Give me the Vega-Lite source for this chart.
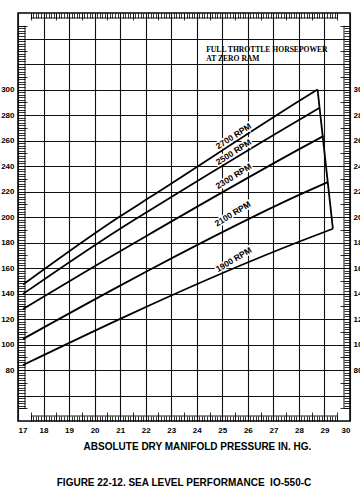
{
  "$schema": "https://vega.github.io/schema/vega-lite/v6.json",
  "width": 332,
  "height": 408,
  "autosize": {"type": "none"},
  "padding": {"left": 18, "top": 13, "right": 10, "bottom": 83},
  "background": "white",
  "title": {"text": "FIGURE 22-12. SEA LEVEL PERFORMANCE \u00a0IO-550-C", "orient": "bottom", "anchor": "middle", "font": "Liberation Sans", "fontSize": 10, "fontWeight": "bold", "color": "#000", "offset": 27},
  "config": {
    "view": {"stroke": "#000", "strokeWidth": 1.5},
    "axis": {"labelFont": "Liberation Sans", "labelFontWeight": "bold", "labelFontSize": 8, "labelColor": "#000", "tickColor": "#000", "tickWidth": 0.8, "gridColor": "#111", "gridWidth": 1.1, "gridOpacity": 1, "domain": false}
  },
  "layer": [
    {
      "data": {"values": [
        {"series": "2700", "mp": 17.2, "hp": 147},
        {"series": "2700", "mp": 21, "hp": 200.5},
        {"series": "2700", "mp": 22.18, "hp": 215.6},
        {"series": "2700", "mp": 28.05, "hp": 291.5},
        {"series": "2700", "mp": 28.73, "hp": 300},
        {"series": "2500", "mp": 17.2, "hp": 139.7},
        {"series": "2500", "mp": 21, "hp": 190.8},
        {"series": "2500", "mp": 22.18, "hp": 205.5},
        {"series": "2500", "mp": 28.05, "hp": 276.7},
        {"series": "2500", "mp": 28.8, "hp": 285.5},
        {"series": "2300", "mp": 17.2, "hp": 127.9},
        {"series": "2300", "mp": 21, "hp": 173.2},
        {"series": "2300", "mp": 22.18, "hp": 186.9},
        {"series": "2300", "mp": 28.05, "hp": 253.6},
        {"series": "2300", "mp": 28.96, "hp": 263.5},
        {"series": "2100", "mp": 17.2, "hp": 104.4},
        {"series": "2100", "mp": 21, "hp": 146.2},
        {"series": "2100", "mp": 22.18, "hp": 158.8},
        {"series": "2100", "mp": 28.05, "hp": 217.7},
        {"series": "2100", "mp": 29.13, "hp": 227.4},
        {"series": "1900", "mp": 17.2, "hp": 83.9},
        {"series": "1900", "mp": 21, "hp": 120.1},
        {"series": "1900", "mp": 22.18, "hp": 131},
        {"series": "1900", "mp": 28.05, "hp": 181},
        {"series": "1900", "mp": 29.33, "hp": 190.8},
        {"series": "limit", "mp": 28.73, "hp": 300},
        {"series": "limit", "mp": 29.33, "hp": 190.8}
      ]},
      "mark": {"type": "line", "color": "#000", "strokeWidth": 1.8, "interpolate": "monotone"},
      "encoding": {
        "x": {"field": "mp", "type": "quantitative", "scale": {"domain": [17, 30], "nice": false, "zero": false},
          "axis": {"orient": "bottom", "values": [17,18,19,20,21,22,23,24,25,26,27,28,29,30], "grid": true, "ticks": false, "labelPadding": 5,
            "title": "ABSOLUTE DRY MANIFOLD PRESSURE IN. HG.", "titleFont": "Liberation Sans", "titleFontSize": 10, "titleFontWeight": "bold", "titleColor": "#000",
            "titleX": 179, "titleY": 28, "titleBaseline": "alphabetic", "titleAlign": "center"}},
        "y": {"field": "hp", "type": "quantitative", "scale": {"domain": [40, 360], "nice": false, "zero": false},
          "axis": {"orient": "left", "values": [60,80,100,120,140,160,180,200,220,240,260,280,300,320,340], "labelExpr": "datum.value >= 80 && datum.value <= 300 ? datum.label : ''", "grid": true, "ticks": false, "labelPadding": 4, "title": null}},
        "detail": {"field": "series"}
      }
    },
    {
      "data": {"values": [
        {"label": "2700 RPM", "rpm": "2700", "mp": 25.44, "hp": 263.5},
        {"label": "2500 RPM", "rpm": "2500", "mp": 25.44, "hp": 251.0},
        {"label": "2300 RPM", "rpm": "2300", "mp": 25.44, "hp": 232.1},
        {"label": "2100 RPM", "rpm": "2100", "mp": 25.40, "hp": 202.6},
        {"label": "1900 RPM", "rpm": "1900", "mp": 25.44, "hp": 166.7}
      ]},
      "mark": {"type": "text", "font": "Liberation Sans", "fontWeight": "bold", "fontSize": 8.5, "fill": "white", "stroke": "white", "strokeWidth": 3, "align": "center", "baseline": "middle"},
      "encoding": {
        "x": {"field": "mp", "type": "quantitative", "scale": {"domain": [17, 30], "nice": false, "zero": false},
          "axis": {"orient": "bottom", "offset": -5, "tickSize": 5, "labels": false, "grid": false, "title": null,
            "values": [17.5,17.6,17.7,17.8,17.9,18,18.1,18.2,18.3,18.4,18.5,18.6,18.7,18.8,18.9,19,19.1,19.2,19.3,19.4,19.5,19.6,19.7,19.8,19.9,20,20.1,20.2,20.3,20.4,20.5,20.6,20.7,20.8,20.9,21,21.1,21.2,21.3,21.4,21.5,21.6,21.7,21.8,21.9,22,22.1,22.2,22.3,22.4,22.5,22.6,22.7,22.8,22.9,23,23.1,23.2,23.3,23.4,23.5,23.6,23.7,23.8,23.9,24,24.1,24.2,24.3,24.4,24.5,24.6,24.7,24.8,24.9,25,25.1,25.2,25.3,25.4,25.5,25.6,25.7,25.8,25.9,26,26.1,26.2,26.3,26.4,26.5,26.6,26.7,26.8,26.9,27,27.1,27.2,27.3,27.4,27.5,27.6,27.7,27.8,27.9,28,28.1,28.2,28.3,28.4,28.5,28.6,28.7,28.8,28.9,29,29.1,29.2,29.3,29.4,29.5]}},
        "y": {"field": "hp", "type": "quantitative", "scale": {"domain": [40, 360], "nice": false, "zero": false},
          "axis": {"orient": "right", "values": [80,100,120,140,160,180,200,220,240,260,280,300], "ticks": false, "grid": false, "labelPadding": 3, "title": null}},
        "text": {"field": "label"},
        "angle": {"field": "rpm", "type": "nominal", "scale": {"domain": ["2700","2500","2300","2100","1900"], "range": [327,329,331,333,336]}, "legend": null}
      }
    },
    {
      "data": {"values": [
        {"label": "2700 RPM", "rpm": "2700", "mp": 25.44, "hp": 263.5},
        {"label": "2500 RPM", "rpm": "2500", "mp": 25.44, "hp": 251.0},
        {"label": "2300 RPM", "rpm": "2300", "mp": 25.44, "hp": 232.1},
        {"label": "2100 RPM", "rpm": "2100", "mp": 25.40, "hp": 202.6},
        {"label": "1900 RPM", "rpm": "1900", "mp": 25.44, "hp": 166.7}
      ]},
      "mark": {"type": "text", "font": "Liberation Sans", "fontWeight": "bold", "fontSize": 8.5, "fill": "#000", "align": "center", "baseline": "middle"},
      "encoding": {
        "x": {"field": "mp", "type": "quantitative", "scale": {"domain": [17, 30], "nice": false, "zero": false},
          "axis": {"orient": "bottom", "offset": -9, "tickSize": 9, "labels": false, "grid": false, "title": null,
            "values": [17.5,18.5,19.5,20.5,21.5,22.5,23.5,24.5,25.5,26.5,27.5,28.5,29.5]}},
        "y": {"field": "hp", "type": "quantitative", "scale": {"domain": [40, 360], "nice": false, "zero": false},
          "axis": {"orient": "left", "offset": -7, "tickSize": 7, "labels": false, "grid": false, "title": null,
            "values": [50,52,54,56,58,60,62,64,66,68,70,72,74,76,78,80,82,84,86,88,90,92,94,96,98,100,102,104,106,108,110,112,114,116,118,120,122,124,126,128,130,132,134,136,138,140,142,144,146,148,150,152,154,156,158,160,162,164,166,168,170,172,174,176,178,180,182,184,186,188,190,192,194,196,198,200,202,204,206,208,210,212,214,216,218,220,222,224,226,228,230,232,234,236,238,240,242,244,246,248,250,252,254,256,258,260,262,264,266,268,270,272,274,276,278,280,282,284,286,288,290,292,294,296,298,300,302,304,306,308,310,312,314,316,318,320,322,324,326,328,330,332,334,336,338,340,342,344,346,348,350]}},
        "text": {"field": "label"},
        "angle": {"field": "rpm", "type": "nominal", "scale": {"domain": ["2700","2500","2300","2100","1900"], "range": [327,329,331,333,336]}, "legend": null}
      }
    },
    {
      "data": {"values": [
        {"note": "FULL THROTTLE HORSEPOWER", "mp": 24.37, "hp": 331.0},
        {"note": "AT ZERO RAM", "mp": 24.37, "hp": 323.6}
      ]},
      "mark": {"type": "text", "font": "Liberation Serif", "fontWeight": "bold", "fontSize": 7.6, "fill": "#000", "align": "left", "baseline": "middle"},
      "encoding": {
        "x": {"field": "mp", "type": "quantitative", "scale": {"domain": [17, 30], "nice": false, "zero": false},
          "axis": {"orient": "top", "offset": -5, "tickSize": 5, "labels": false, "grid": false, "title": null,
            "values": [17.5,17.6,17.7,17.8,17.9,18,18.1,18.2,18.3,18.4,18.5,18.6,18.7,18.8,18.9,19,19.1,19.2,19.3,19.4,19.5,19.6,19.7,19.8,19.9,20,20.1,20.2,20.3,20.4,20.5,20.6,20.7,20.8,20.9,21,21.1,21.2,21.3,21.4,21.5,21.6,21.7,21.8,21.9,22,22.1,22.2,22.3,22.4,22.5,22.6,22.7,22.8,22.9,23,23.1,23.2,23.3,23.4,23.5,23.6,23.7,23.8,23.9,24,24.1,24.2,24.3,24.4,24.5,24.6,24.7,24.8,24.9,25,25.1,25.2,25.3,25.4,25.5,25.6,25.7,25.8,25.9,26,26.1,26.2,26.3,26.4,26.5,26.6,26.7,26.8,26.9,27,27.1,27.2,27.3,27.4,27.5,27.6,27.7,27.8,27.9,28,28.1,28.2,28.3,28.4,28.5,28.6,28.7,28.8,28.9,29,29.1,29.2,29.3,29.4,29.5]}},
        "y": {"field": "hp", "type": "quantitative", "scale": {"domain": [40, 360], "nice": false, "zero": false},
          "axis": {"orient": "right", "offset": -6, "tickSize": 6, "labels": false, "grid": false, "title": null,
            "values": [50,52,54,56,58,60,62,64,66,68,70,72,74,76,78,80,82,84,86,88,90,92,94,96,98,100,102,104,106,108,110,112,114,116,118,120,122,124,126,128,130,132,134,136,138,140,142,144,146,148,150,152,154,156,158,160,162,164,166,168,170,172,174,176,178,180,182,184,186,188,190,192,194,196,198,200,202,204,206,208,210,212,214,216,218,220,222,224,226,228,230,232,234,236,238,240,242,244,246,248,250,252,254,256,258,260,262,264,266,268,270,272,274,276,278,280,282,284,286,288,290,292,294,296,298,300,302,304,306,308,310,312,314,316,318,320,322,324,326,328,330,332,334,336,338,340,342,344,346,348,350]}},
        "text": {"field": "note"}
      }
    },
    {
      "data": {"values": [{}]},
      "mark": {"type": "rule", "color": "#000", "strokeWidth": 0.9},
      "encoding": {
        "x": {"datum": 17.274, "type": "quantitative", "scale": {"domain": [17, 30], "nice": false, "zero": false},
          "axis": {"orient": "top", "offset": -7, "tickSize": 7, "labels": false, "grid": false, "title": null,
            "values": [17.5,18.5,19.5,20.5,21.5,22.5,23.5,24.5,25.5,26.5,27.5,28.5,29.5]}},
        "y": {"datum": 50, "type": "quantitative", "scale": {"domain": [40, 360], "nice": false, "zero": false},
          "axis": {"orient": "left", "offset": -9, "tickSize": 9, "labels": false, "grid": false, "title": null,
            "values": [50,70,90,110,130,150,170,190,210,230,250,270,290,310,330,350]}},
        "y2": {"datum": 350}
      }
    },
    {
      "data": {"values": [{}]},
      "mark": {"type": "rule", "color": "#000", "strokeWidth": 0.9},
      "encoding": {
        "x": {"datum": 29.765, "type": "quantitative", "scale": {"domain": [17, 30], "nice": false, "zero": false}, "axis": null},
        "y": {"datum": 50, "type": "quantitative", "scale": {"domain": [40, 360], "nice": false, "zero": false},
          "axis": {"orient": "right", "offset": -10, "tickSize": 10, "labels": false, "grid": false, "title": null,
            "values": [50,70,90,110,130,150,170,190,210,230,250,270,290,310,330,350]}},
        "y2": {"datum": 350}
      }
    },
    {
      "data": {"values": [{}]},
      "mark": {"type": "rule", "color": "#000", "strokeWidth": 0.9},
      "encoding": {
        "x": {"datum": 17.5, "type": "quantitative", "scale": {"domain": [17, 30], "nice": false, "zero": false}, "axis": null},
        "x2": {"datum": 29.5},
        "y": {"datum": 356.08, "type": "quantitative", "scale": {"domain": [40, 360], "nice": false, "zero": false}, "axis": null}
      }
    },
    {
      "data": {"values": [{}]},
      "mark": {"type": "rule", "color": "#000", "strokeWidth": 0.9},
      "encoding": {
        "x": {"datum": 17.5, "type": "quantitative", "scale": {"domain": [17, 30], "nice": false, "zero": false}, "axis": null},
        "x2": {"datum": 29.5},
        "y": {"datum": 43.92, "type": "quantitative", "scale": {"domain": [40, 360], "nice": false, "zero": false}, "axis": null}
      }
    }
  ],
  "resolve": {"axis": {"x": "independent", "y": "independent"}}
}
